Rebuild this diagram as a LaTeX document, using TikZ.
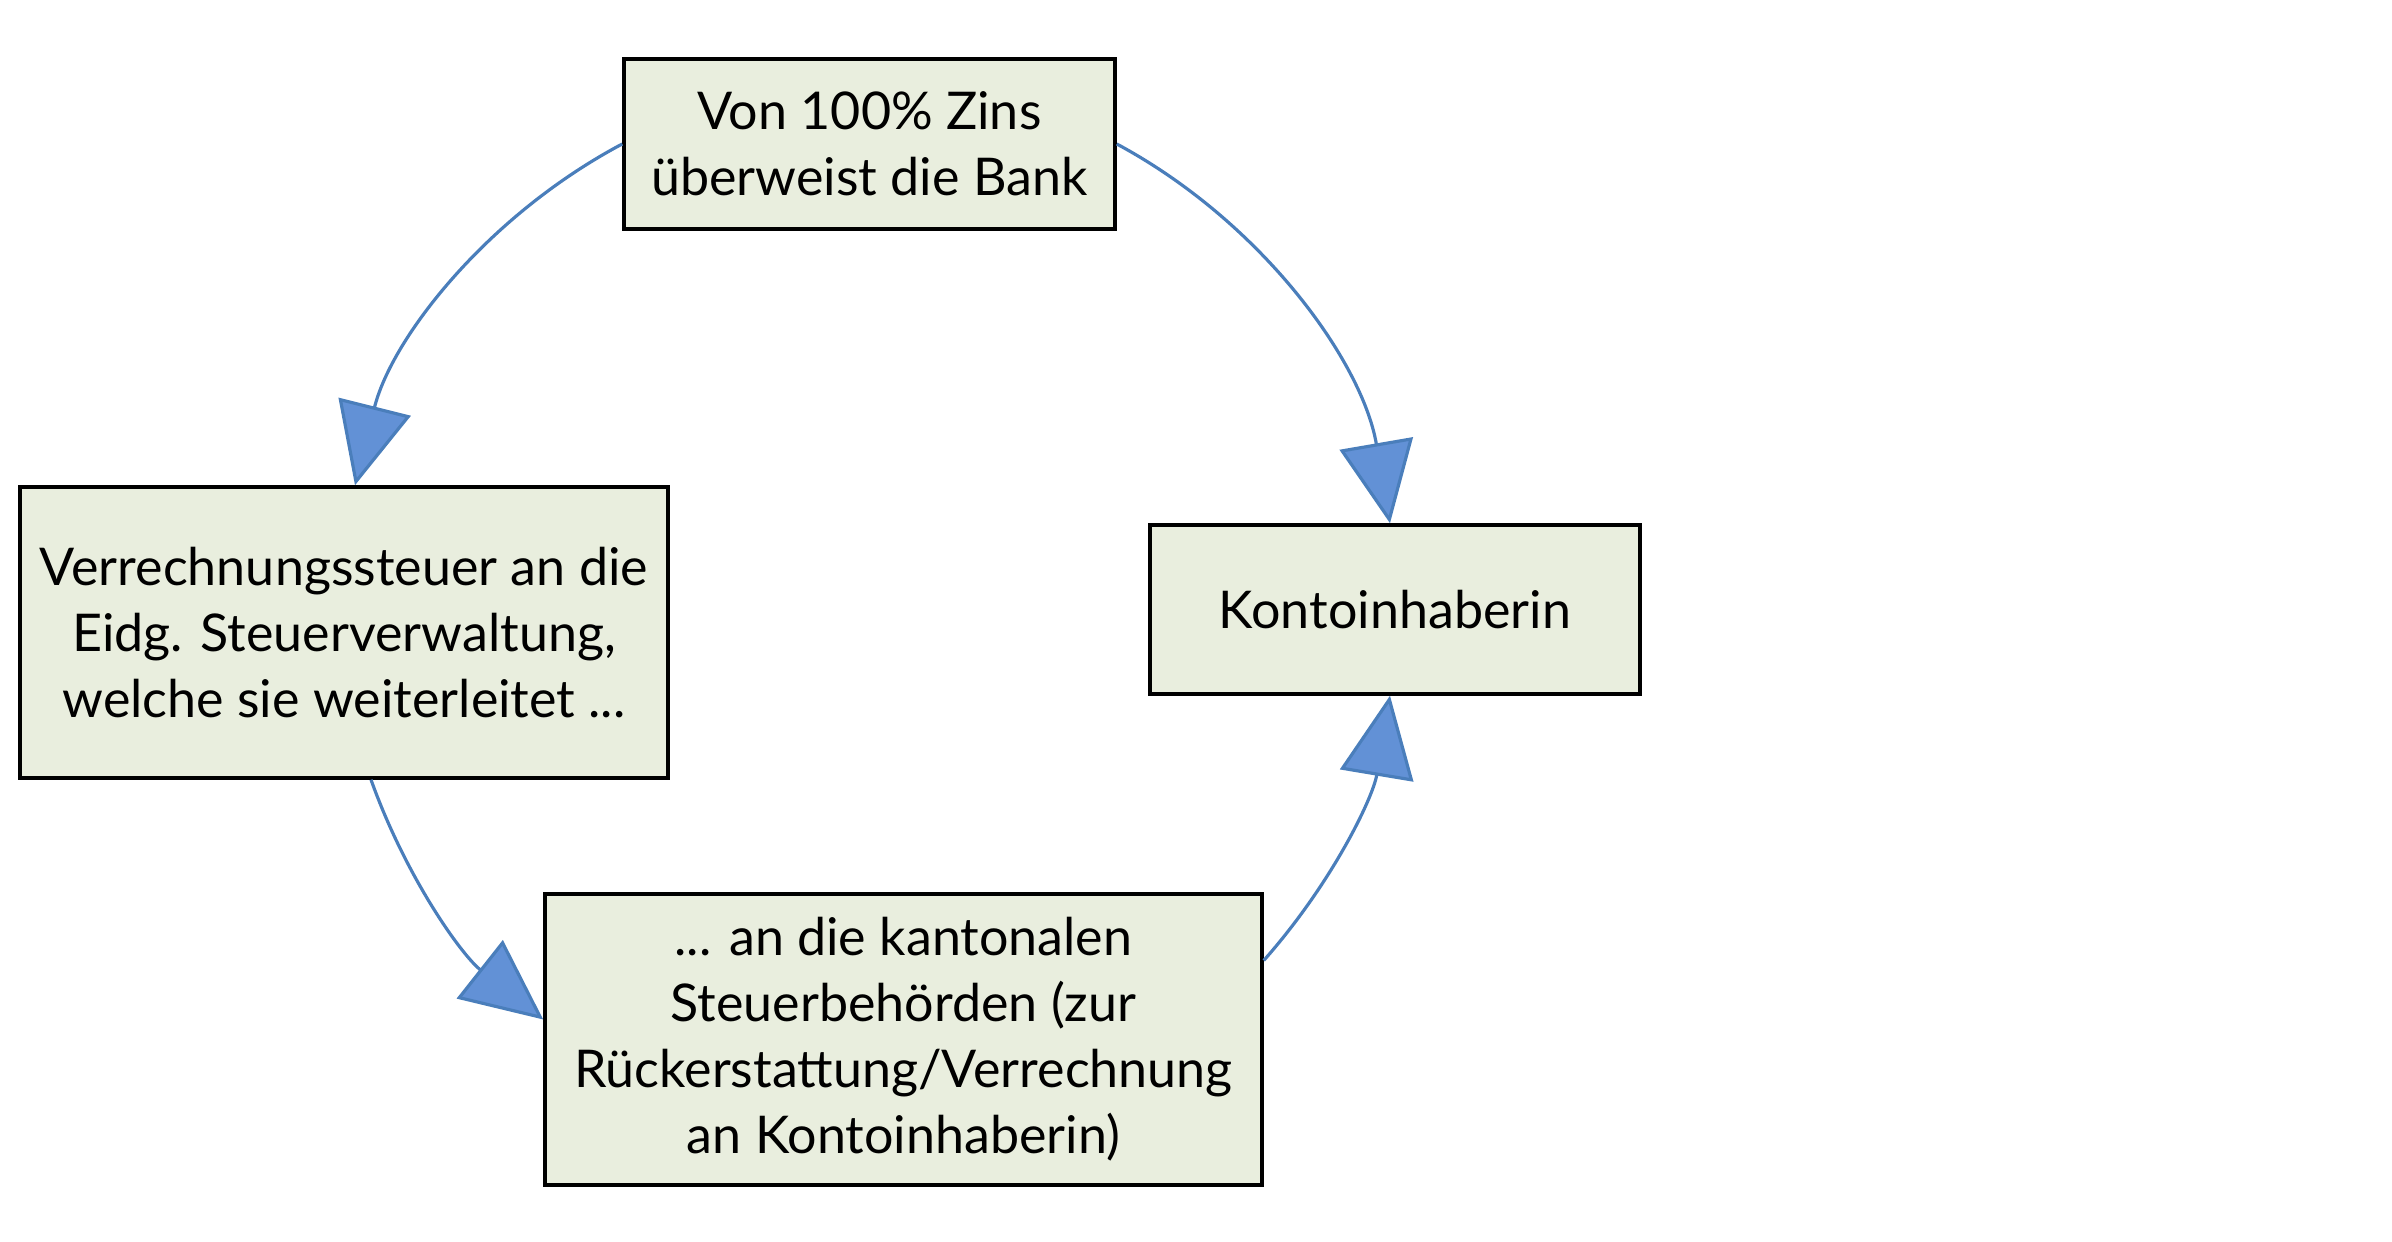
\documentclass[tikz,border=0pt]{standalone}
\usepackage{fontspec}
\setmainfont{Lato}
\usetikzlibrary{arrows.meta}
\definecolor{zinsgreen}{RGB}{233,238,222}
\definecolor{zinsblue}{RGB}{74,126,187}
\definecolor{zinsfill}{RGB}{98,145,214}

\begin{document}
\begin{tikzpicture}[
  box/.style={draw=black, line width=1pt, fill=zinsgreen, align=center,
              inner sep=0pt, font=\fontsize{14.8}{18.8}\selectfont},
  flow/.style={zinsblue, line width=0.9pt,
               -{Triangle[length=8.1mm, width=7.4mm, fill=zinsfill]}}
]
\useasboundingbox (0,0) rectangle (23.92,12.42);

% --- the four boxes ---
\node[box, minimum width=4.91cm, minimum height=1.70cm] (bank) at (8.695,10.98)
      {Von 100\% Zins\\überweist die Bank};
\node[box, minimum width=6.48cm, minimum height=2.91cm] (estv) at (3.44,6.095)
      {Verrechnungssteuer an die\\Eidg. Steuerverwaltung,\\welche sie weiterleitet ...};
\node[box, minimum width=4.90cm, minimum height=1.69cm] (konto) at (13.95,6.325)
      {Kontoinhaberin};
\node[box, minimum width=7.17cm, minimum height=2.91cm] (kanton) at (9.035,2.025)
      {... an die kantonalen\\Steuerbehörden (zur\\Rückerstattung/Verrechnung\\an Kontoinhaberin)};

% --- circular flow ---
\draw[flow] (bank.west) to[bend right=24, looseness=0.9] ([xshift=1.1mm]estv.north);
\draw[flow] ([xshift=2.7mm]estv.south) to[bend right=16, looseness=0.9] ([yshift=2mm]kanton.west);
\draw[flow] ([yshift=7.9mm]kanton.east) to[bend right=16, looseness=0.9] ([xshift=-0.5mm]konto.south);
\draw[flow] (bank.east) to[bend left=26, looseness=0.9] ([xshift=-0.5mm]konto.north);

\end{tikzpicture}
\end{document}
